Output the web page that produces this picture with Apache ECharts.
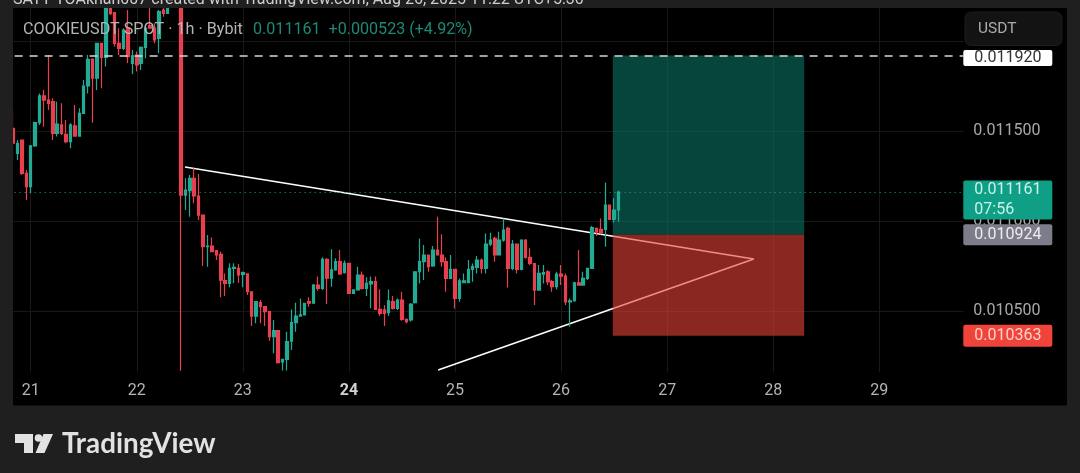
<!DOCTYPE html>
<html>
<head>
<meta charset="utf-8">
<style>html,body{margin:0;padding:0;background:#1f1f1f}#c{width:1080px;height:473px}</style>
<script src="https://cdn.jsdelivr.net/npm/echarts@6/dist/echarts.min.js"></script>
</head>
<body>
<div id="c"></div>
<script>
const firstHour = 20; // hours after 20 Aug 00:00 of the first candle
const dayOfHourZero = 20;

const opens = [0.011515,0.011376,0.011450,0.011265,0.011191,0.011417,0.011546,0.011695,0.011672,0.011663,
0.011487,0.011534,0.011482,0.011441,0.011528,0.011472,0.011598,0.011750,0.011898,0.011793,
0.011987,0.011909,0.012195,0.012158,0.011987,0.011959,0.012071,0.011876,0.011922,0.011876,
0.011965,0.012085,0.012071,0.012015,0.012172,0.012154,0.012250,0.012300,0.012270,0.011144,
0.011169,0.011237,0.011139,0.011033,0.010857,0.010861,0.010835,0.010815,0.010669,0.010654,
0.010737,0.010737,0.010704,0.010706,0.010607,0.010472,0.010546,0.010524,0.010496,0.010357,
0.010391,0.010217,0.010231,0.010333,0.010435,0.010472,0.010478,0.010552,0.010543,0.010644,
0.010626,0.010787,0.010682,0.010728,0.010774,0.010713,0.010765,0.010598,0.010617,0.010700,
0.010626,0.010650,0.010663,0.010509,0.010506,0.010491,0.010552,0.010515,0.010561,0.010454,
0.010450,0.010546,0.010718,0.010774,0.010811,0.010750,0.010839,0.010811,0.010774,0.010681,
0.010731,0.010570,0.010657,0.010657,0.010731,0.010742,0.010783,0.010737,0.010872,0.010903,
0.010811,0.010894,0.010959,0.010737,0.010872,0.010731,0.010894,0.010798,0.010764,0.010616,
0.010705,0.010718,0.010663,0.010635,0.010705,0.010694,0.010551,0.010557,0.010657,0.010644,
0.010681,0.010737,0.010959,0.010953,0.010953,0.011089,0.011009,0.011061];

const closes = [0.011432,0.011432,0.011265,0.011191,0.011417,0.011546,0.011695,0.011672,0.011654,0.011487,
0.011539,0.011487,0.011441,0.011534,0.011472,0.011598,0.011750,0.011898,0.011793,0.011987,
0.011909,0.012200,0.012154,0.011987,0.011959,0.012061,0.011913,0.011917,0.011867,0.011965,
0.012071,0.012071,0.012006,0.012163,0.012154,0.012182,0.012300,0.012260,0.011144,0.011172,
0.011237,0.011139,0.011033,0.010857,0.010861,0.010830,0.010811,0.010672,0.010654,0.010737,
0.010743,0.010700,0.010713,0.010607,0.010472,0.010552,0.010524,0.010496,0.010357,0.010391,
0.010213,0.010231,0.010330,0.010435,0.010472,0.010478,0.010543,0.010543,0.010644,0.010626,
0.010787,0.010682,0.010728,0.010774,0.010706,0.010765,0.010598,0.010617,0.010700,0.010626,
0.010654,0.010663,0.010509,0.010487,0.010487,0.010557,0.010515,0.010561,0.010454,0.010441,
0.010539,0.010718,0.010774,0.010811,0.010746,0.010839,0.010811,0.010774,0.010681,0.010731,
0.010570,0.010668,0.010668,0.010731,0.010746,0.010783,0.010737,0.010872,0.010894,0.010811,
0.010894,0.010950,0.010737,0.010872,0.010731,0.010894,0.010798,0.010764,0.010616,0.010709,
0.010713,0.010663,0.010635,0.010705,0.010694,0.010551,0.010557,0.010657,0.010644,0.010681,
0.010737,0.010964,0.010940,0.010935,0.011089,0.011009,0.011061,0.011161];

const lows = [0.011339,0.011339,0.011256,0.011117,0.011154,0.011413,0.011534,0.011524,0.011617,0.011450,
0.011469,0.011478,0.011432,0.011404,0.011469,0.011469,0.011598,0.011709,0.011546,0.011728,
0.011737,0.011858,0.012145,0.011969,0.011922,0.011950,0.011876,0.011817,0.011830,0.011839,
0.011904,0.012071,0.011987,0.011932,0.012135,0.012154,0.012240,0.012240,0.010168,0.011061,
0.011024,0.011098,0.011006,0.010750,0.010746,0.010830,0.010783,0.010576,0.010583,0.010632,
0.010654,0.010657,0.010632,0.010589,0.010417,0.010432,0.010432,0.010417,0.010335,0.010265,
0.010209,0.010169,0.010169,0.010283,0.010385,0.010469,0.010478,0.010524,0.010543,0.010613,
0.010617,0.010539,0.010635,0.010724,0.010700,0.010709,0.010594,0.010594,0.010613,0.010620,
0.010583,0.010515,0.010506,0.010472,0.010417,0.010472,0.010509,0.010506,0.010446,0.010432,
0.010441,0.010542,0.010653,0.010672,0.010718,0.010746,0.010811,0.010746,0.010607,0.010681,
0.010514,0.010551,0.010657,0.010657,0.010663,0.010709,0.010709,0.010709,0.010861,0.010774,
0.010811,0.010885,0.010631,0.010727,0.010709,0.010727,0.010792,0.010755,0.010533,0.010613,
0.010653,0.010644,0.010607,0.010620,0.010644,0.010533,0.010413,0.010551,0.010644,0.010644,
0.010672,0.010737,0.010916,0.010927,0.010857,0.011005,0.010990,0.010996];

const highs = [0.011617,0.011450,0.011450,0.011284,0.011422,0.011552,0.011709,0.011728,0.011922,0.011682,
0.011663,0.011654,0.011561,0.011543,0.011645,0.011626,0.011784,0.011922,0.011904,0.011987,
0.011987,0.012230,0.012240,0.012163,0.012071,0.012071,0.012172,0.011950,0.011941,0.011969,
0.012071,0.012191,0.012098,0.012172,0.012191,0.012182,0.012320,0.012320,0.012300,0.011237,
0.011256,0.011293,0.011261,0.011033,0.010922,0.010909,0.010839,0.010830,0.010709,0.010765,
0.010765,0.010761,0.010719,0.010709,0.010607,0.010552,0.010561,0.010528,0.010502,0.010450,
0.010394,0.010235,0.010385,0.010509,0.010546,0.010570,0.010546,0.010576,0.010650,0.010691,
0.010798,0.010793,0.010843,0.010793,0.010839,0.010780,0.010765,0.010617,0.010746,0.010719,
0.010687,0.010691,0.010691,0.010620,0.010533,0.010620,0.010583,0.010570,0.010607,0.010459,
0.010543,0.010718,0.010903,0.010866,0.010811,0.010861,0.011024,0.010927,0.010798,0.010811,
0.010731,0.010681,0.010709,0.010783,0.010764,0.010805,0.010792,0.010931,0.010935,0.010913,
0.010940,0.011014,0.010968,0.010894,0.010872,0.010898,0.010898,0.010848,0.010764,0.010755,
0.010755,0.010727,0.010672,0.010718,0.010755,0.010709,0.010570,0.010663,0.010839,0.010718,
0.010737,0.010972,0.010964,0.011014,0.011213,0.011089,0.011126,0.011168];

const yTicks = {min: 0.0100, max: 0.0125, interval: 0.0005};
const xTicks = {min: 0, max: 235, interval: 24};
const boldDay = 24;

const upperTrend = [[58.9, 0.011300], [187.6, 0.010789]];
const lowerTrend = [[116.2, 0.010172], [187.6, 0.010789]];

const targetPrice = 0.011920;
const lastPrice = 0.011161;
const entryPrice = 0.010924;
const stopPrice = 0.010363;
const positionHours = [155.7, 199];
const countdown = '07:56';

const symbolText = 'COOKIEUSDT SPOT · 1h · Bybit';
const quoteText = '0.011161  +0.000523 (+4.92%)';
const headerText = 'SATY-YOAkhan007 created with TradingView.com, Aug 26, 2025 11:22 UTC+5:30';

const candles = opens.map((o, i) => [firstHour + i, o, closes[i], lows[i], highs[i]]);

const FONT = 'Roboto, sans-serif';
const OUTER = '#1f1f1f';
const TEAL = '#22ab94';
const RED = '#e8404f';
const NO_LINE = {color: 'rgba(0,0,0,0)', width: 0};

function priceLine(value, lineStyle, label) {
  return {
    yAxis: value,
    lineStyle: lineStyle,
    symbol: 'none',
    label: Object.assign({
      show: true, position: 'end', distance: 0, fontFamily: FONT, fontSize: 16,
      width: 78, align: 'left', lineHeight: 20, borderRadius: 2, padding: [0, 0, 0, 11]
    }, label)
  };
}

const chart = echarts.init(document.getElementById('c'), null, {renderer: 'canvas'});

chart.setOption({
  animation: false,
  backgroundColor: '#000000',
  grid: {left: -75.38, right: 116.7, top: -49, bottom: 72, containLabel: false, outerBoundsMode: 'none'},
  xAxis: [
    {type: 'value', min: xTicks.min, max: xTicks.max, interval: xTicks.interval, position: 'bottom',
     axisLine: {show: false}, axisTick: {show: false}, axisLabel: {show: false},
     splitLine: {show: true, showMaxLine: false, lineStyle: {color: '#181818', width: 1}}},
    {type: 'value', min: xTicks.min, max: xTicks.max, interval: xTicks.interval, position: 'bottom',
     offset: -30, z: 6,
     axisLine: {show: false}, axisTick: {show: false}, splitLine: {show: false},
     axisLabel: {show: true, margin: 12, showMaxLabel: false, showMinLabel: false, color: '#b4b4b4',
       fontFamily: FONT, fontSize: 16,
       formatter: v => {
         const d = dayOfHourZero + v / xTicks.interval;
         return d === boldDay ? '{b|' + d + '}' : String(d);
       },
       rich: {b: {fontWeight: 'bold', fontSize: 16, color: '#d0d0d0', fontFamily: FONT}}}}
  ],
  yAxis: {
    type: 'value', position: 'right', min: yTicks.min, max: yTicks.max, interval: yTicks.interval,
    axisLine: {show: false}, axisTick: {show: false},
    splitLine: {show: true, lineStyle: {color: '#181818', width: 1}},
    axisLabel: {show: true, margin: 10, color: '#a8a8a8', fontFamily: FONT, fontSize: 16,
      showMinLabel: false, showMaxLabel: false, formatter: v => v.toFixed(6)}
  },
  series: [
    {type: 'line', z: 1, xAxisIndex: 0, data: upperTrend, showSymbol: false, silent: true,
     lineStyle: {color: '#ffffff', width: 1.5}},
    {type: 'line', z: 1, xAxisIndex: 0, data: lowerTrend, showSymbol: false, silent: true,
     lineStyle: {color: '#ffffff', width: 1.5}},
    {type: 'line', z: 2, xAxisIndex: 0, data: [], silent: true,
     markArea: {silent: true, z: 2, data: [
       [{xAxis: positionHours[0], yAxis: targetPrice, itemStyle: {color: 'rgba(8,115,100,0.6)'}},
        {xAxis: positionHours[1], yAxis: entryPrice}],
       [{xAxis: positionHours[0], yAxis: entryPrice, itemStyle: {color: 'rgba(230,65,53,0.6)'}},
        {xAxis: positionHours[1], yAxis: stopPrice}]
     ]}},
    {type: 'candlestick', z: 3, xAxisIndex: 0, data: candles, barWidth: 3, clip: true,
     itemStyle: {color: TEAL, color0: RED, borderColor: TEAL, borderColor0: RED, borderWidth: 1.2}},
    {type: 'line', z: 4, xAxisIndex: 0, data: [], silent: true,
     markLine: {silent: true, symbol: 'none', animation: false, precision: 6, data: [
       priceLine(targetPrice, {color: '#d8d8d8', type: [8, 7], width: 1.5},
         {formatter: targetPrice.toFixed(6), backgroundColor: '#ffffff', color: '#333333',
          height: 13, lineHeight: 13, padding: [0, 0, 3, 11], offset: [0, 2.6]}),
       priceLine(lastPrice, {color: '#2f9d8a', type: [1, 4], width: 1},
         {formatter: lastPrice.toFixed(6) + '\n' + countdown, backgroundColor: '#0f9f86', color: '#c9f2e8',
          height: 39, lineHeight: 19.5, offset: [0, 8]}),
       priceLine(entryPrice, NO_LINE,
         {formatter: entryPrice.toFixed(6), backgroundColor: '#7d7c8a', color: '#ececec', height: 21}),
       priceLine(stopPrice, NO_LINE,
         {formatter: stopPrice.toFixed(6), backgroundColor: '#f0443a', color: '#fbd2cd', height: 22})
     ]}}
  ],
  graphic: [
    // time-axis strip below the price pane
    {type: 'rect', z: 4, silent: true, shape: {x: 0, y: 372, width: 963, height: 34}, style: {fill: '#000'}},
    // outer frame
    {type: 'rect', z: 10, silent: true, shape: {x: 0, y: 0, width: 1080, height: 8}, style: {fill: OUTER}},
    {type: 'rect', z: 10, silent: true, shape: {x: 0, y: 405.5, width: 1080, height: 68}, style: {fill: OUTER}},
    {type: 'rect', z: 10, silent: true, shape: {x: 0, y: 0, width: 13, height: 473}, style: {fill: OUTER}},
    {type: 'rect', z: 10, silent: true, shape: {x: 1067, y: 0, width: 13, height: 473}, style: {fill: OUTER}},
    // header, cut off by the top of the image
    {type: 'text', z: 11, silent: true, left: 13, top: -8,
     style: {text: headerText, fill: '#cfcfcf', font: '16px ' + FONT}},
    // legend
    {type: 'text', z: 11, silent: true, left: 23, top: 22,
     style: {text: symbolText, fill: '#b4b4b4', font: '16.2px ' + FONT}},
    {type: 'text', z: 11, silent: true, left: 253, top: 22,
     style: {text: quoteText, fill: '#1d8a78', font: '16.1px ' + FONT}},
    // currency button
    {type: 'rect', z: 11, silent: true, shape: {x: 965, y: 12, width: 97, height: 33.5, r: 6},
     style: {fill: '#131313', stroke: '#1c1c1c', lineWidth: 1}},
    {type: 'text', z: 12, silent: true, left: 978, top: 21,
     style: {text: 'USDT', fill: '#ababab', font: '15.5px ' + FONT}},
    // TradingView logo
    {type: 'polygon', z: 11, silent: true,
     shape: {points: [[15, 434], [33, 434], [33, 453], [24, 453], [24, 443], [15, 443]]}, style: {fill: '#e2e2e2'}},
    {type: 'circle', z: 11, silent: true, shape: {cx: 38.5, cy: 438, r: 3.8}, style: {fill: '#e2e2e2'}},
    {type: 'polygon', z: 11, silent: true,
     shape: {points: [[43.5, 434], [53, 434], [44.5, 453], [35.5, 453]]}, style: {fill: '#e2e2e2'}},
    {type: 'text', z: 11, silent: true, left: 62, top: 430,
     style: {text: 'TradingView', fill: '#e2e2e2', font: 'bold 27.8px Lato, sans-serif'}}
  ]
});
</script>
</body>
</html>
